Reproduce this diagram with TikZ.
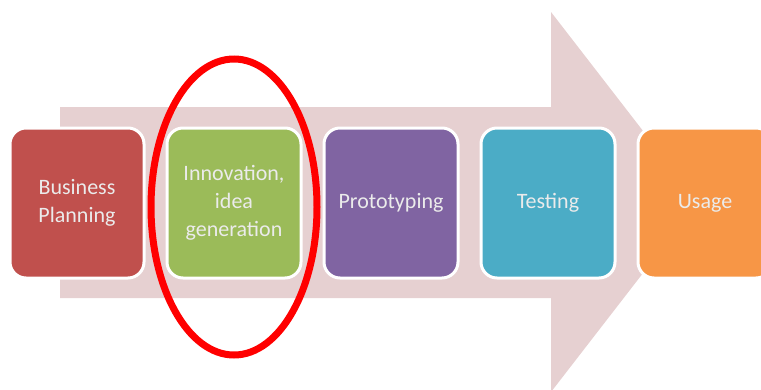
\documentclass[tikz,border=0pt]{standalone}
\usepackage{fontspec}
\setmainfont{Carlito}
\usepackage{tikz}
\usetikzlibrary{positioning}

\definecolor{planred}{HTML}{C0504D}
\definecolor{ideagreen}{HTML}{9BBB59}
\definecolor{protopurple}{HTML}{8064A2}
\definecolor{testblue}{HTML}{4BACC6}
\definecolor{useorange}{HTML}{F79646}
\definecolor{arrowpink}{HTML}{E6D0D1}

\begin{document}
\begin{tikzpicture}[x=1pt,y=-1pt,
	stepbox/.style = {draw=white, line width=3pt, rounded corners=16pt,
		minimum width=134pt, minimum height=150pt, align=center,
		text=white!92!black, font=\fontsize{22}{28}\selectfont},
	node distance=157pt]
	\useasboundingbox (0,0) rectangle (761,389);
	% big arrow behind the steps
	\fill[arrowpink] (60,107) -- (551,107) -- (551,12) -- (698,202)
		-- (551,392) -- (551,298) -- (60,298) -- cycle;
	\node[stepbox, fill=planred] (plan) at (77,203) {Business\\Planning};
	\node[stepbox, fill=ideagreen] (idea) [right of=plan] {Innovation,\\idea\\generation};
	\node[stepbox, fill=protopurple] (proto) [right of=idea] {Prototyping};
	\node[stepbox, fill=testblue] (test) [right of=proto] {Testing};
	\node[stepbox, fill=useorange] (use) [right of=test] {Usage};
	% highlight
	\draw[red, line width=7pt] ([yshift=-4pt]idea.center) ellipse [x radius=83, y radius=148];
\end{tikzpicture}
\end{document}
